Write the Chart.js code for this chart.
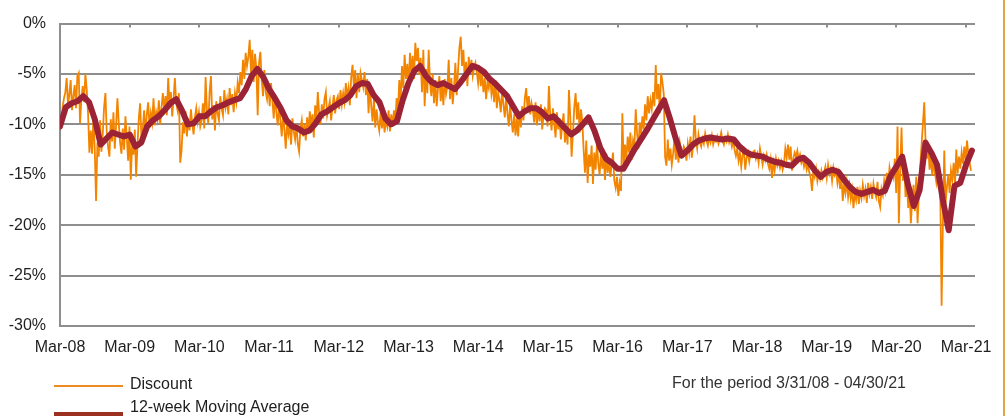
<!DOCTYPE html>
<html>
<head>
<meta charset="utf-8">
<script src="https://cdn.jsdelivr.net/npm/chart.js@4.4.1/dist/chart.umd.min.js"></script>
<style>
  body { margin: 0; background: #fff; }
  #wrap { position: relative; width: 1006px; height: 416px; overflow: hidden; font-family: "Liberation Sans", Arial, sans-serif; }
  #c { position: absolute; left: 0; top: 0; }
  .txt { position: absolute; font-size: 16px; color: #1e1e1e; white-space: nowrap; line-height: 18px; }
  .swatch { position: absolute; left: 54px; width: 69px; }
  #edge { position: absolute; left: 1003px; top: 0; width: 2px; height: 416px; background: #e0a445; }
</style>
</head>
<body>
<div id="wrap">
  <canvas id="c" width="1006" height="416"></canvas>
  <div class="swatch" style="top:385px;height:2px;background:#ee8c24;"></div>
  <div class="txt" style="left:130px;top:375px;">Discount</div>
  <div class="swatch" style="top:412px;height:5px;background:#9c3020;"></div>
  <div class="txt" style="left:130px;top:398px;">12-week Moving Average</div>
  <div class="txt" style="left:672px;top:374px;color:#333;">For the period 3/31/08 - 04/30/21</div>
  <div id="edge"></div>
</div>
<script>
// x axis is in weeks since 3/31/08
const weeksPerYear = 52.18;
const tickLabels = ['Mar-08', 'Mar-09', 'Mar-10', 'Mar-11', 'Mar-12', 'Mar-13', 'Mar-14',
  'Mar-15', 'Mar-16', 'Mar-17', 'Mar-18', 'Mar-19', 'Mar-20', 'Mar-21'];

// weekly discount (%), one line per year starting each March
const discount = [
  -10.5,-9.8,-8.2,-7.4,-6.8,-5.4,-8.1,-7.0,-5.6,-8.6,-7.2,-6.1,-8.4,-5.2,-4.9,-9.9,-7.5,-6.2,-7.8,-5.0,-6.5,-8.9,-12.8,-10.6,-12.9,-9.3,-12.4,-17.6,-11.8,-13.2,-9.6,-12.7,-11.0,-8.3,-6.9,-10.8,-12.2,-13.2,-9.5,-11.7,-8.8,-12.4,-10.1,-7.4,-9.9,-11.8,-12.9,-10.4,-12.5,-9.2,-11.3,-13.6,
  -10.2,-15.5,-11.8,-13.0,-10.5,-15.2,-12.1,-9.4,-7.9,-11.6,-10.4,-8.6,-11.2,-9.0,-7.8,-10.3,-8.9,-9.8,-7.4,-10.1,-8.8,-9.5,-7.6,-10.0,-8.3,-6.9,-8.7,-7.2,-9.1,-5.4,-8.0,-6.8,-9.2,-7.5,-5.4,-7.9,-8.6,-6.9,-13.8,-12.6,-9.8,-10.9,-8.7,-11.2,-9.4,-10.6,-8.5,-9.9,-11.0,-9.3,-8.4,-9.7,
  -8.8,-10.2,-9.6,-7.9,-10.4,-5.3,-8.6,-9.9,-6.8,-5.2,-9.5,-8.1,-10.6,-7.7,-8.9,-9.6,-7.2,-8.4,-9.1,-6.6,-8.3,-7.5,-9.0,-6.4,-8.1,-7.0,-8.8,-6.9,-7.8,-5.9,-6.9,-4.8,-6.1,-3.6,-5.5,-2.9,-4.2,-3.3,-1.6,-4.9,-2.6,-5.8,-3.0,-4.4,-9.1,-3.9,-2.8,-5.6,-7.2,-4.6,-6.8,-7.5,
  -6.0,-8.2,-5.9,-7.6,-9.4,-7.0,-8.8,-10.1,-8.0,-9.6,-11.2,-9.0,-10.5,-12.4,-9.8,-11.0,-10.2,-12.0,-9.4,-10.7,-11.5,-10.0,-11.9,-12.7,-10.4,-9.6,-11.2,-10.0,-11.6,-9.3,-10.8,-8.7,-10.2,-9.0,-11.3,-8.1,-9.6,-6.8,-8.9,-10.0,-8.0,-9.4,-7.5,-6.8,-9.1,-8.4,-7.7,-9.6,-8.2,-7.1,-8.9,-7.6,
  -7.2,-8.5,-6.6,-8.0,-6.9,-7.8,-5.9,-7.3,-6.4,-8.1,-5.3,-4.1,-6.2,-4.6,-7.4,-5.0,-6.8,-4.9,-5.6,-6.3,-4.8,-7.1,-5.5,-8.9,-6.0,-8.2,-9.7,-7.4,-10.3,-8.5,-9.8,-10.6,-8.8,-10.4,-9.2,-10.8,-9.6,-10.2,-8.6,-10.7,-9.0,-10.2,-8.6,-9.8,-7.4,-8.8,-5.6,-7.8,-4.2,-6.4,-3.1,-5.5,
  -4.0,-6.3,-2.9,-4.8,-3.2,-5.5,-1.9,-3.7,-2.4,-5.1,-3.4,-6.8,-2.6,-8.2,-4.5,-6.9,-2.6,-5.8,-7.2,-5.0,-7.9,-5.6,-8.2,-6.4,-5.2,-7.7,-6.0,-8.1,-5.5,-7.0,-6.2,-3.6,-7.5,-5.4,-8.0,-6.3,-3.9,-7.1,-4.6,-2.4,-1.3,-4.2,-2.6,-5.7,-3.8,-6.2,-3.3,-4.9,-3.6,-5.2,-4.4,-3.9,
  -4.8,-5.9,-4.3,-6.2,-5.0,-6.8,-5.4,-7.5,-5.8,-6.4,-5.2,-7.0,-6.1,-7.8,-5.6,-8.4,-6.9,-7.6,-8.8,-6.5,-8.1,-9.3,-7.2,-8.9,-10.2,-8.0,-9.6,-10.8,-9.0,-11.1,-9.4,-11.2,-8.7,-10.3,-8.2,-9.6,-7.4,-6.4,-8.5,-7.2,-9.0,-7.9,-8.6,-9.8,-7.8,-10.1,-8.3,-9.7,-8.0,-10.5,-9.1,-8.4,
  -8.6,-10.2,-6.2,-9.1,-10.6,-8.4,-9.9,-11.3,-8.8,-10.5,-9.4,-11.5,-10.0,-8.9,-11.8,-10.4,-12.0,-6.6,-9.2,-13.2,-10.9,-8.3,-6.9,-9.5,-7.8,-10.8,-8.5,-9.6,-12.5,-14.8,-11.6,-15.8,-13.0,-14.2,-12.1,-15.9,-12.8,-14.5,-11.8,-13.9,-15.0,-12.6,-14.4,-13.2,-15.5,-12.9,-14.8,-13.6,-15.2,-14.0,-12.8,-15.6,
  -16.3,-15.2,-17.1,-15.8,-16.6,-8.9,-14.2,-12.0,-13.5,-11.2,-12.8,-10.8,-13.5,-11.6,-12.2,-8.5,-10.9,-12.4,-9.8,-11.0,-9.2,-10.5,-8.0,-9.6,-7.2,-8.9,-7.6,-8.5,-6.8,-8.2,-4.1,-7.5,-6.0,-8.9,-4.9,-5.8,-7.0,-13.2,-14.1,-11.5,-13.6,-12.4,-14.0,-12.9,-11.4,-13.5,-12.0,-13.8,-11.8,-12.6,-13.0,-12.2,
  -12.5,-13.6,-11.9,-12.8,-11.2,-13.3,-12.0,-9.1,-11.5,-12.4,-11.0,-11.8,-12.2,-11.4,-11.9,-10.9,-11.6,-12.1,-11.3,-11.8,-11.1,-12.0,-11.5,-11.7,-11.2,-11.9,-11.4,-10.8,-11.6,-12.0,-11.3,-11.7,-11.0,-11.8,-11.4,-12.2,-11.6,-12.5,-13.1,-12.4,-13.6,-12.8,-14.2,-13.0,-12.6,-14.5,-13.3,-12.8,-13.7,-12.9,-13.2,-12.7,
  -12.6,-13.4,-12.9,-13.8,-12.4,-13.2,-14.0,-13.1,-13.6,-13.0,-13.9,-14.4,-13.5,-15.3,-13.8,-14.6,-13.4,-14.1,-13.6,-14.3,-13.7,-14.5,-13.9,-12.4,-13.3,-12.0,-13.5,-12.2,-14.6,-13.4,-12.8,-13.2,-12.6,-13.5,-13.0,-13.8,-13.4,-14.2,-13.6,-14.5,-14.0,-14.8,-15.3,-16.6,-14.6,-15.2,-14.4,-15.6,-14.8,-15.4,-14.6,-15.3,
  -14.8,-14.2,-15.3,-14.0,-14.9,-14.4,-15.6,-14.3,-15.0,-14.6,-15.8,-14.9,-16.4,-15.2,-17.6,-15.9,-16.8,-15.7,-17.2,-16.1,-17.4,-16.5,-18.3,-16.8,-17.5,-16.2,-17.9,-16.6,-17.3,-16.0,-17.1,-16.4,-17.8,-15.8,-16.9,-16.2,-17.4,-15.9,-16.7,-17.2,-15.7,-17.6,-18.2,-16.4,-17.0,-15.6,-16.5,-14.8,-16.0,-14.3,-15.1,-14.6,
  -15.2,-13.4,-16.8,-10.2,-19.8,-14.5,-10.3,-15.6,-14.0,-17.2,-15.8,-18.3,-16.5,-19.8,-17.4,-16.0,-18.6,-15.2,-19.8,-16.9,-14.2,-12.0,-10.0,-7.8,-11.7,-13.4,-12.2,-14.5,-13.0,-15.1,-13.6,-14.8,-15.7,-14.2,-15.0,-16.5,-28.0,-19.5,-12.6,-17.8,-16.2,-15.0,-16.8,-14.6,-15.5,-13.8,-16.0,-12.5,-14.9,-13.2,-14.4,-12.8,-13.9,-12.2,-13.6,-11.6,-12.9,-13.8,-14.6
];

// 12-week moving average (%), one value per month from Mar-08
const movingAvg = [
  -10.2,-8.3,-7.9,-7.7,-7.2,-7.8,-9.5,-12.0,-11.4,-10.8,-11.0,-11.2,
  -11.0,-12.2,-11.8,-10.2,-9.6,-9.2,-8.6,-7.9,-7.5,-8.6,-10.0,-9.9,
  -9.2,-9.2,-8.7,-8.3,-8.1,-7.8,-7.6,-7.4,-6.5,-5.2,-4.5,-5.3,
  -6.5,-7.4,-8.4,-9.6,-10.2,-10.4,-10.8,-10.6,-9.9,-9.0,-8.7,-8.3,
  -7.9,-7.6,-7.1,-6.2,-5.9,-6.0,-7.1,-7.8,-9.4,-10.0,-9.7,-7.6,
  -5.9,-4.7,-4.2,-5.2,-5.8,-6.1,-5.9,-6.2,-6.5,-5.8,-5.0,-4.2,
  -4.4,-4.8,-5.5,-6.0,-6.6,-7.2,-8.2,-9.2,-8.7,-8.4,-8.4,-8.8,
  -9.4,-9.2,-9.8,-10.4,-11.0,-10.6,-10.0,-9.3,-10.6,-12.3,-13.4,-13.8,
  -14.4,-14.4,-13.4,-12.4,-11.5,-10.6,-9.6,-8.6,-7.6,-9.4,-11.4,-13.1,
  -12.6,-12.0,-11.6,-11.4,-11.3,-11.4,-11.5,-11.4,-11.5,-12.2,-12.7,-13.0,
  -13.1,-13.2,-13.5,-13.7,-13.8,-14.0,-14.1,-13.5,-13.3,-13.8,-14.6,-15.2,
  -14.7,-14.5,-14.7,-15.5,-16.2,-16.7,-16.9,-16.7,-16.5,-16.8,-16.6,-15.1,
  -14.2,-13.2,-16.0,-18.1,-16.5,-11.8,-12.8,-14.0,-17.5,-20.5,-16.1,-15.8,
  -14.0,-12.6
];

const discountPts = discount.map((v, i) => ({ x: i, y: v }));
const maPts = movingAvg.map((v, i) => ({ x: i * weeksPerYear / 12, y: v }));

const gridGray = '#8e8e8e';
const labelFont = { family: '"Liberation Sans", Arial, sans-serif', size: 16 };

// short tick marks hanging below the 0% line
const topTicks = {
  id: 'topTicks',
  afterDatasetsDraw(chart) {
    const { ctx, chartArea, scales } = chart;
    ctx.save();
    ctx.strokeStyle = gridGray;
    ctx.lineWidth = 2;
    scales.x.ticks.forEach(t => {
      const px = Math.round(scales.x.getPixelForValue(t.value));
      ctx.beginPath();
      ctx.moveTo(px, chartArea.top);
      ctx.lineTo(px, chartArea.top + 4);
      ctx.stroke();
    });
    ctx.restore();
  }
};

new Chart(document.getElementById('c'), {
  type: 'line',
  data: {
    datasets: [
      {
        label: 'Discount',
        data: discountPts,
        borderColor: '#f38400',
        borderWidth: 1.8,
        pointRadius: 0,
        tension: 0,
        order: 1
      },
      {
        label: '12-week Moving Average',
        data: maPts,
        borderColor: '#9b2335',
        borderWidth: 6,
        borderJoinStyle: 'round',
        borderCapStyle: 'round',
        pointRadius: 0,
        tension: 0,
        order: 0
      }
    ]
  },
  options: {
    responsive: false,
    animation: false,
    devicePixelRatio: 1,
    layout: { padding: { left: 0, top: 21, right: 31, bottom: 60 } },
    plugins: { legend: { display: false }, tooltip: { enabled: false } },
    scales: {
      x: {
        type: 'linear',
        min: 0,
        max: 685,
        afterBuildTicks: s => { s.ticks = tickLabels.map((_, i) => ({ value: i * weeksPerYear })); },
        afterFit: s => { s.height = 30; },
        grid: { display: false },
        border: { display: false },
        ticks: {
          autoSkip: false,
          maxRotation: 0,
          padding: 4,
          color: '#1e1e1e',
          font: labelFont,
          callback: (v, i) => tickLabels[i]
        }
      },
      y: {
        min: -30,
        max: 0,
        afterFit: s => { s.width = 60; },
        grid: { color: gridGray, lineWidth: 2, drawTicks: false },
        border: { display: true, color: gridGray, width: 2 },
        ticks: {
          stepSize: 5,
          padding: 14,
          color: '#1e1e1e',
          font: labelFont,
          callback: v => v + '%'
        }
      }
    }
  },
  plugins: [topTicks]
});
</script>
</body>
</html>
